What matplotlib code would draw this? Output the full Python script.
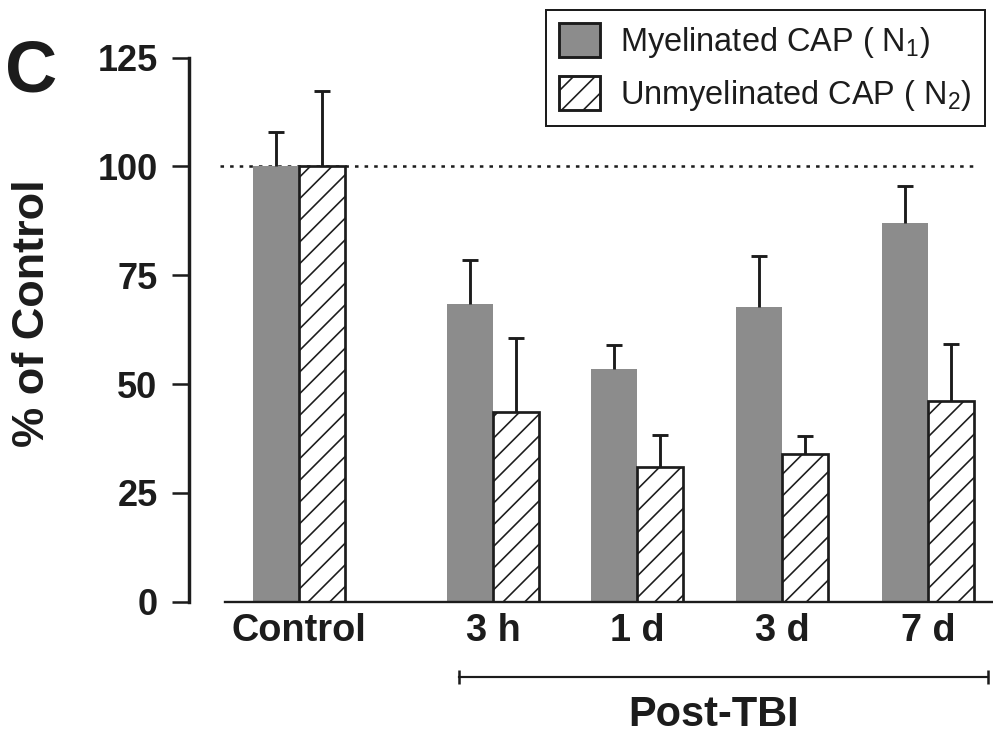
import numpy as np
import matplotlib
matplotlib.use('Agg')
import matplotlib.pyplot as plt
from matplotlib.patches import Patch

plt.rcParams['font.family'] = ['Liberation Sans', 'DejaVu Sans']
plt.rcParams['mathtext.default'] = 'regular'
plt.rcParams['hatch.linewidth'] = 0.9

# data (% of control)
categories = ['Control', '3 h', '1 d', '3 d', '7 d']
myelinated = [100, 68.4, 53.4, 67.7, 87.0]
myelinated_err = [7.8, 10.1, 5.5, 11.6, 8.4]
unmyelinated = [100, 43.6, 31.0, 33.9, 46.1]
unmyelinated_err = [17.4, 17.0, 7.2, 4.2, 13.2]
yticks = [0, 25, 50, 75, 100, 125]

# layout
group_x = np.array([0, 1.338, 2.334, 3.331, 4.338])
width = 0.317
gray = '#8c8c8c'
ink = '#1c1c1c'

W, H, DPI = 993, 737, 130
fig = plt.figure(figsize=(W / DPI, H / DPI), dpi=DPI)
ax = fig.add_axes([189 / W, 1 - 601.7 / H, 1 - 189 / W, (601.7 - 57.5) / H])

ax.hlines(100, -0.545, 4.66, colors=ink, linewidth=1.4, linestyles=(0, (1.4, 2.4)), zorder=1)

ax.bar(group_x - width / 2, myelinated, width, color=gray, edgecolor='none', zorder=2)
ax.bar(group_x + width / 2, unmyelinated, width, color='white', edgecolor=ink,
       linewidth=1.5, hatch='//', zorder=2)

# upward-only error bars (drop the lower caps)
zeros = np.zeros(len(categories))
for xs, vals, errs in [(group_x - width / 2, myelinated, myelinated_err),
                       (group_x + width / 2, unmyelinated, unmyelinated_err)]:
    eb = ax.errorbar(xs, vals, yerr=[zeros, errs], fmt='none', ecolor=ink,
                     elinewidth=1.6, capsize=4.4, capthick=1.6, zorder=3)
    eb[1][0].remove()

x_left = (189 - 299) / 145
x_right = (W - 299) / 145
ax.set_xlim(x_left, x_right)
ax.set_ylim(0, 125)

for s in ['top', 'right']:
    ax.spines[s].set_visible(False)
ax.spines['left'].set_linewidth(1.9)
ax.spines['left'].set_color(ink)
ax.spines['left'].set_bounds(0, 125)
ax.spines['bottom'].set_linewidth(1.3)
ax.spines['bottom'].set_color(ink)
ax.spines['bottom'].set_bounds((225 - 299) / 145, x_right)

ax.set_yticks(yticks)
ax.set_yticklabels([str(v) for v in yticks], fontsize=20, fontweight='bold', color=ink)
ax.tick_params(axis='y', length=9.4, width=1.4, pad=8, color=ink)
ax.set_xticks(group_x)
ax.set_xticklabels(categories, fontsize=21, fontweight='bold', color=ink)
ax.tick_params(axis='x', length=0, pad=6)

# Post-TBI bracket
ax.plot([1.103, 4.752], [-17.3, -17.3], color=ink, linewidth=1.2, marker='|',
        markersize=7.5, markeredgewidth=1.4, clip_on=False)
ax.text(2.862, -26, 'Post-TBI', fontsize=23, fontweight='bold', color=ink,
        ha='center', va='center', clip_on=False)

fig.text(33 / W, 1 - 313 / H, '% of Control', rotation=90, fontsize=25, fontweight='bold',
         color=ink, ha='center', va='center')
fig.text(5 / W, 1 - 91 / H, 'C', fontsize=40, fontweight='bold', color=ink, va='baseline')

handles = [Patch(facecolor=gray, edgecolor=ink, linewidth=1.6),
           Patch(facecolor='white', edgecolor=ink, linewidth=1.6, hatch='//')]
labels = ['Myelinated CAP ( N$_1$)', 'Unmyelinated CAP ( N$_2$)']
leg = fig.legend(handles, labels, loc='upper right', bbox_to_anchor=(985 / W, 1 - 10 / H),
                 fontsize=18, fancybox=False, framealpha=1, edgecolor=ink,
                 handlelength=1.26, handleheight=1.24, labelspacing=0.5,
                 handletextpad=0.64, borderpad=0.4, borderaxespad=0)
leg.get_frame().set_linewidth(1.1)
for t in leg.get_texts():
    t.set_color(ink)

fig.savefig('out.png', dpi=DPI)
